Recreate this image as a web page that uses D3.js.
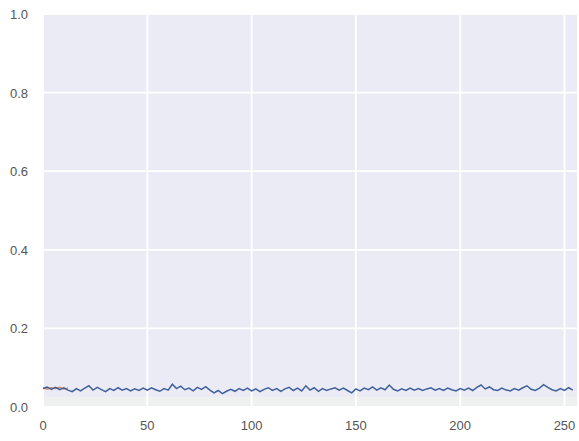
<!DOCTYPE html>
<html>
<head>
<meta charset="utf-8">
<script src="https://cdn.jsdelivr.net/npm/d3@7.9.0/dist/d3.min.js"></script>
<style>
  body { margin: 0; background: #fff; }
  svg { display: block; font-family: "Liberation Sans", Arial, sans-serif; }
</style>
</head>
<body>
<svg id="chart" width="579" height="441"></svg>
<script>
// x ticks and y ticks
const xTicks = [0, 50, 100, 150, 200, 250];
const yTicks = [0.0, 0.2, 0.4, 0.6, 0.8, 1.0];

// main blue series, one value every 2 steps (x = 0, 2, 4 ... 254)
const blueValues = [
  0.047, 0.051, 0.045, 0.050, 0.044, 0.049, 0.043, 0.039, 0.047, 0.041,
  0.048, 0.054, 0.043, 0.050, 0.044, 0.039, 0.047, 0.042, 0.049, 0.043,
  0.047, 0.041, 0.046, 0.042, 0.048, 0.043, 0.049, 0.044, 0.040, 0.047,
  0.043, 0.058, 0.047, 0.053, 0.044, 0.048, 0.041, 0.050, 0.045, 0.052,
  0.043, 0.036, 0.042, 0.034, 0.040, 0.045, 0.040, 0.047, 0.042, 0.048,
  0.041, 0.046, 0.039, 0.045, 0.049, 0.042, 0.047, 0.040, 0.046, 0.050,
  0.042, 0.048, 0.041, 0.054, 0.043, 0.049, 0.040, 0.047, 0.042, 0.046,
  0.049, 0.043, 0.048, 0.042, 0.036, 0.046, 0.041, 0.048, 0.044, 0.051,
  0.043, 0.049, 0.044, 0.056, 0.045, 0.041, 0.046, 0.042, 0.048, 0.043,
  0.047, 0.042, 0.046, 0.049, 0.043, 0.047, 0.042, 0.048, 0.044, 0.041,
  0.047, 0.043, 0.048, 0.042, 0.050, 0.056, 0.046, 0.051, 0.044, 0.042,
  0.048, 0.043, 0.041, 0.047, 0.043, 0.049, 0.054, 0.045, 0.042, 0.048,
  0.057, 0.050, 0.044, 0.041, 0.047, 0.042, 0.049, 0.043
];

// short orange series at the very start (x = 0 .. 12)
const orangeValues = [0.048, 0.046, 0.049, 0.047, 0.050, 0.046, 0.048];

// faint lower band under the line
const bandValues = [0.026, 0.026];

const width = 579, height = 441;
const margin = { top: 14, right: 2, bottom: 34, left: 43 };

const svg = d3.select('#chart');

const x = d3.scaleLinear().domain([0, 256]).range([margin.left, width - margin.right]);
const y = d3.scaleLinear().domain([0, 1]).range([height - margin.bottom, margin.top]);

// plot background
svg.append('rect')
  .attr('x', x(0)).attr('y', y(1))
  .attr('width', x(256) - x(0)).attr('height', y(0) - y(1))
  .attr('fill', '#ebebf5');

// faint band along the bottom
svg.append('rect')
  .attr('x', x(0)).attr('y', y(bandValues[0]))
  .attr('width', x(256) - x(0)).attr('height', y(0) - y(bandValues[0]))
  .attr('fill', '#eff1f0');

// grid lines
svg.append('g').selectAll('line').data(xTicks).join('line')
  .attr('x1', d => x(d)).attr('x2', d => x(d))
  .attr('y1', y(0)).attr('y2', y(1))
  .attr('stroke', '#fff').attr('stroke-width', 1.8);

svg.append('g').selectAll('line').data(yTicks).join('line')
  .attr('x1', x(0)).attr('x2', x(256))
  .attr('y1', d => y(d)).attr('y2', d => y(d))
  .attr('stroke', '#fff').attr('stroke-width', 1.8);

// tick labels
svg.append('g').selectAll('text').data(xTicks).join('text')
  .attr('x', d => x(d)).attr('y', y(0) + 23)
  .attr('text-anchor', 'middle')
  .attr('font-size', 13).attr('fill', '#555')
  .text(d => d);

svg.append('g').selectAll('text').data(yTicks).join('text')
  .attr('x', 28).attr('y', d => y(d) + 5)
  .attr('text-anchor', 'end')
  .attr('font-size', 13).attr('fill', '#555')
  .text(d => d.toFixed(1));

// lines
const line = d3.line()
  .x(d => x(d[0]))
  .y(d => y(d[1]));

svg.append('path')
  .datum(orangeValues.map((v, i) => [i * 2, v]))
  .attr('d', line)
  .attr('fill', 'none')
  .attr('stroke', '#dd8452')
  .attr('stroke-width', 1.4);

svg.append('path')
  .datum(blueValues.map((v, i) => [i * 2, v]))
  .attr('d', line)
  .attr('fill', 'none')
  .attr('stroke', '#40609e')
  .attr('stroke-width', 1.5);
</script>
</body>
</html>
